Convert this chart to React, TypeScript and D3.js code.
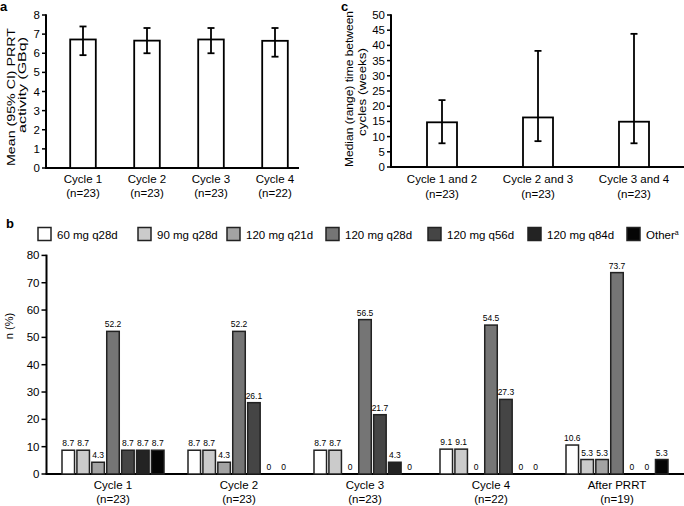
import React from "react";
import * as d3 from "d3";

// ---------- Panel a: mean (95% CI) PRRT activity ----------
const activityCycles = ["Cycle 1", "Cycle 2", "Cycle 3", "Cycle 4"];
const activityN = ["(n=23)", "(n=23)", "(n=23)", "(n=22)"];
const activityMean = [6.72, 6.66, 6.72, 6.65];
const activityLow = [5.9, 6.0, 6.0, 5.82];
const activityHigh = [7.4, 7.32, 7.32, 7.32];
const activityTicks = [0, 1, 2, 3, 4, 5, 6, 7, 8];

// ---------- Panel c: median (range) time between cycles ----------
const intervalLabels = ["Cycle 1 and 2", "Cycle 2 and 3", "Cycle 3 and 4"];
const intervalN = ["(n=23)", "(n=23)", "(n=23)"];
const intervalMedian = [14.7, 16.3, 14.9];
const intervalMin = [7.8, 8.5, 7.8];
const intervalMax = [22.0, 38.2, 43.8];
const intervalTicks = [0, 5, 10, 15, 20, 25, 30, 35, 40, 45, 50];

// ---------- Panel b: somatostatin analogue dose regimens ----------
const doseRegimens = ["60 mg q28d", "90 mg q28d", "120 mg q21d", "120 mg q28d", "120 mg q56d", "120 mg q84d", "Other"];
const doseGroups = ["Cycle 1", "Cycle 2", "Cycle 3", "Cycle 4", "After PRRT"];
const doseGroupN = ["(n=23)", "(n=23)", "(n=23)", "(n=22)", "(n=19)"];
const pctCycle1 = [8.7, 8.7, 4.3, 52.2, 8.7, 8.7, 8.7];
const pctCycle2 = [8.7, 8.7, 4.3, 52.2, 26.1, 0, 0];
const pctCycle3 = [8.7, 8.7, 0, 56.5, 21.7, 4.3, 0];
const pctCycle4 = [9.1, 9.1, 0, 54.5, 27.3, 0, 0];
const pctAfter = [10.6, 5.3, 5.3, 73.7, 0, 0, 5.3];
const doseTicks = [0, 10, 20, 30, 40, 50, 60, 70, 80];

const dosePercent = [pctCycle1, pctCycle2, pctCycle3, pctCycle4, pctAfter];

// styles / layout
const FONT = "'Liberation Sans', Arial, Helvetica, sans-serif";
const regimenColors = ["#ffffff", "#cbcbcb", "#a3a3a3", "#757575", "#454545", "#232323", "#050505"];
const legendX = [38, 138, 227, 326, 428, 528, 627];

function fmt(v: number) {
  return v === 0 ? "0" : v.toFixed(1);
}

export default function App() {
  // Panel a scales
  const xA = d3.scaleBand<string>().domain(activityCycles).range([51, 307]).paddingInner(0.6).paddingOuter(0.3);
  const yA = d3.scaleLinear().domain([0, 8]).range([168, 15]);
  const axA = 46;

  // Panel c scales
  const xC = d3.scaleBand<string>().domain(intervalLabels).range([394, 682]).paddingInner(0.6875).paddingOuter(0.34375);
  const yC = d3.scaleLinear().domain([0, 50]).range([167, 15]);
  const axC = 391;

  // Panel b scales
  const xB = d3.scaleBand<string>().domain(doseGroups).range([50, 680]);
  const xBi = d3.scaleBand<number>().domain(d3.range(doseRegimens.length)).range([-51, 51]).paddingInner(0.16);
  const yB = d3.scaleLinear().domain([0, 80]).range([474, 255.4]);
  const axB = 46.5;

  const errCap = 3.5;

  return (
    <div style={{ position: "absolute", left: 0, top: 0 }}>
      <svg width={684} height={506} style={{ display: "block", background: "#fff" }} fontFamily={FONT}>
        {/* ===== Panel a ===== */}
        <text x={0} y={11} fontSize={13} fontWeight="bold">a</text>
        <g>
          {activityTicks.map((t) => (
            <g key={t}>
              <line x1={axA - 4} x2={axA} y1={yA(t)} y2={yA(t)} stroke="#000" strokeWidth={1.5} />
              <text x={axA - 6} y={yA(t)} dy="0.35em" textAnchor="end" fontSize={11.5}>{t}</text>
            </g>
          ))}
          <line x1={axA} x2={axA} y1={yA(8) - 0.75} y2={yA(0)} stroke="#000" strokeWidth={2} />
          <line x1={axA - 1} x2={299} y1={yA(0)} y2={yA(0)} stroke="#000" strokeWidth={2} />
          {activityCycles.map((c, i) => {
            const cx = (xA(c) as number) + xA.bandwidth() / 2;
            return (
              <g key={c}>
                <rect x={xA(c)} y={yA(activityMean[i])} width={xA.bandwidth()} height={yA(0) - yA(activityMean[i])} fill="#fff" stroke="#000" strokeWidth={1.8} />
                <line x1={cx} x2={cx} y1={yA(activityHigh[i])} y2={yA(activityLow[i])} stroke="#000" strokeWidth={1.8} />
                <line x1={cx - errCap} x2={cx + errCap} y1={yA(activityHigh[i])} y2={yA(activityHigh[i])} stroke="#000" strokeWidth={1.8} />
                <line x1={cx - errCap} x2={cx + errCap} y1={yA(activityLow[i])} y2={yA(activityLow[i])} stroke="#000" strokeWidth={1.8} />
                <text x={cx} y={183} textAnchor="middle" fontSize={11.5}>{c}</text>
                <text x={cx} y={197} textAnchor="middle" fontSize={11.5}>{activityN[i]}</text>
              </g>
            );
          })}
          <text transform="translate(15,97) rotate(-90)" textAnchor="middle" fontSize={11} textLength={138} lengthAdjust="spacingAndGlyphs">Mean (95% CI) PRRT</text>
          <text transform="translate(26,85) rotate(-90)" textAnchor="middle" fontSize={11} textLength={96} lengthAdjust="spacingAndGlyphs">activity (GBq)</text>
        </g>

        {/* ===== Panel c ===== */}
        <text x={341} y={11} fontSize={13} fontWeight="bold">c</text>
        <g>
          {intervalTicks.map((t) => (
            <g key={t}>
              <line x1={axC - 4} x2={axC} y1={yC(t)} y2={yC(t)} stroke="#000" strokeWidth={1.5} />
              <text x={axC - 6} y={yC(t)} dy="0.35em" textAnchor="end" fontSize={11.5}>{t}</text>
            </g>
          ))}
          <line x1={axC} x2={axC} y1={yC(50) - 0.75} y2={yC(0)} stroke="#000" strokeWidth={2} />
          <line x1={axC - 1} x2={684} y1={yC(0)} y2={yC(0)} stroke="#000" strokeWidth={2} />
          {intervalLabels.map((c, i) => {
            const cx = (xC(c) as number) + xC.bandwidth() / 2;
            return (
              <g key={c}>
                <rect x={xC(c)} y={yC(intervalMedian[i])} width={xC.bandwidth()} height={yC(0) - yC(intervalMedian[i])} fill="#fff" stroke="#000" strokeWidth={1.8} />
                <line x1={cx} x2={cx} y1={yC(intervalMax[i])} y2={yC(intervalMin[i])} stroke="#000" strokeWidth={1.8} />
                <line x1={cx - errCap} x2={cx + errCap} y1={yC(intervalMax[i])} y2={yC(intervalMax[i])} stroke="#000" strokeWidth={1.8} />
                <line x1={cx - errCap} x2={cx + errCap} y1={yC(intervalMin[i])} y2={yC(intervalMin[i])} stroke="#000" strokeWidth={1.8} />
                <text x={cx} y={183} textAnchor="middle" fontSize={11.5}>{c}</text>
                <text x={cx} y={198} textAnchor="middle" fontSize={11.5}>{intervalN[i]}</text>
              </g>
            );
          })}
          <text transform="translate(353,89) rotate(-90)" textAnchor="middle" fontSize={11} textLength={156} lengthAdjust="spacingAndGlyphs">Median (range) time between</text>
          <text transform="translate(366,92) rotate(-90)" textAnchor="middle" fontSize={11} textLength={88} lengthAdjust="spacingAndGlyphs">cycles (weeks)</text>
        </g>

        {/* ===== Panel b ===== */}
        <text x={6} y={228} fontSize={13} fontWeight="bold">b</text>
        <g>
          {doseRegimens.map((r, k) => (
            <g key={r}>
              <rect x={legendX[k]} y={227.5} width={13} height={13} fill={regimenColors[k]} stroke="#222" strokeWidth={1.5} />
              <text x={legendX[k] + 19} y={238.5} fontSize={11.5}>
                {r}
                {r === "Other" ? <tspan fontSize={7} dy={-4}>a</tspan> : null}
              </text>
            </g>
          ))}
          {doseTicks.map((t) => (
            <g key={t}>
              <line x1={axB - 5} x2={axB} y1={yB(t)} y2={yB(t)} stroke="#000" strokeWidth={1.5} />
              <text x={axB - 7} y={yB(t)} dy="0.35em" textAnchor="end" fontSize={11.5}>{t}</text>
            </g>
          ))}
          <line x1={axB} x2={axB} y1={yB(80) - 0.75} y2={yB(0)} stroke="#000" strokeWidth={2} />
          <line x1={axB - 1} x2={684} y1={yB(0)} y2={yB(0)} stroke="#000" strokeWidth={2} />
          {doseGroups.map((g, gi) => {
            const gx = (xB(g) as number) + xB.bandwidth() / 2;
            return (
              <g key={g}>
                {dosePercent[gi].map((v, k) => {
                  const bx = gx + (xBi(k) as number);
                  const cx = bx + xBi.bandwidth() / 2;
                  return (
                    <g key={k}>
                      {v > 0 ? (
                        <rect x={bx} y={yB(v)} width={xBi.bandwidth()} height={yB(0) - yB(v)} fill={regimenColors[k]} stroke="#222" strokeWidth={1.5} />
                      ) : null}
                      <text x={cx} y={yB(v) - 4} textAnchor="middle" fontSize={8.5}>{fmt(v)}</text>
                    </g>
                  );
                })}
                <text x={gx} y={489} textAnchor="middle" fontSize={11.5}>{g}</text>
                <text x={gx} y={503} textAnchor="middle" fontSize={11.5}>{doseGroupN[gi]}</text>
              </g>
            );
          })}
          <text transform="translate(13,326) rotate(-90)" textAnchor="middle" fontSize={11}>n (%)</text>
        </g>
      </svg>
    </div>
  );
}
